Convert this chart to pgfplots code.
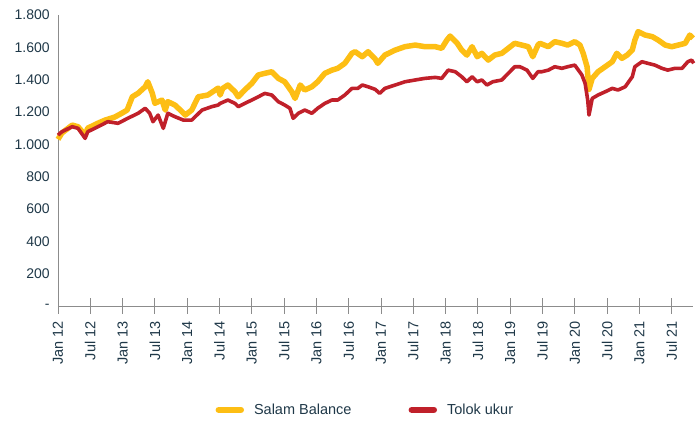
\documentclass[border=0pt]{standalone}
\usepackage{pgfplots}
\pgfplotsset{compat=1.18}
\usepackage{fontspec}
\setmainfont{Liberation Sans}
\definecolor{salam}{RGB}{253,190,20}
\definecolor{tolok}{RGB}{192,32,42}
\definecolor{txt}{RGB}{31,56,72}
\definecolor{axgray}{RGB}{140,140,140}
\begin{document}
\fontsize{14bp}{16bp}\selectfont
\begin{tikzpicture}
\useasboundingbox (-58bp,-118bp) rectangle (641bp,306bp);
\begin{axis}[
  scale only axis, width=635bp, height=291bp,
  xmin=0, xmax=9.83, ymin=0, ymax=1800,
  axis x line=bottom, axis y line=left,
  axis line style={-, draw=axgray, line width=0.9bp},
  xtick={0,0.5,...,9.5},
  xticklabels={Jan 12,Jul 12,Jan 13,Jul 13,Jan 14,Jul 14,Jan 15,Jul 15,Jan 16,Jul 16,Jan 17,Jul 17,Jan 18,Jul 18,Jan 19,Jul 19,Jan 20,Jul 20,Jan 21,Jul 21},
  x tick label style={rotate=90, anchor=east, text=txt, font=\fontsize{14.5bp}{16bp}\selectfont},
  xtick style={draw=axgray, line width=0.9bp},
  major tick length=15bp, tick align=center,
  xticklabel shift=3bp,
  ytick={0,200,...,1800},
  yticklabels={-,200,400,600,800,1.000,1.200,1.400,1.600,1.800},
  y tick label style={text=txt, font=\fontsize{14bp}{16bp}\selectfont},
  ytick style={draw=none},
  yticklabel shift=-4bp,
  /pgf/number format/assume math mode=true,
  clip=false,
  legend columns=2,
  legend style={at={(0.484,-0.357)}, anchor=center, draw=none, fill=none,
    font=\fontsize{14.5bp}{16bp}\selectfont, text=txt,
    /tikz/every odd column/.append style={column sep=8bp},
    /tikz/every even column/.append style={column sep=55bp}},
  legend image code/.code={\draw[#1, line width=6.5bp, line cap=round] (3bp,0bp) -- (25bp,0bp);},
]
\addplot[salam, line width=5.5bp, line join=round] coordinates {
(0,1031)(0.06,1070)(0.22,1119)(0.31,1109)(0.42,1057)(0.46,1100)(0.62,1131)(0.73,1150)(0.88,1169)(0.99,1193)
(1.07,1212)(1.15,1294)(1.24,1316)(1.35,1356)(1.39,1387)(1.46,1316)(1.50,1254)(1.61,1274)(1.66,1212)(1.70,1264)
(1.81,1243)(1.92,1202)(1.97,1181)(2.07,1212)(2.17,1294)(2.32,1305)(2.48,1348)(2.51,1305)(2.55,1346)(2.63,1367)
(2.74,1325)(2.79,1294)(2.89,1336)(3.00,1377)(3.10,1429)(3.20,1439)(3.31,1449)(3.41,1408)(3.51,1387)(3.62,1325)
(3.67,1284)(3.75,1367)(3.82,1336)(3.93,1356)(4.02,1387)(4.13,1439)(4.24,1459)(4.33,1470)(4.44,1501)(4.55,1563)
(4.60,1573)(4.71,1542)(4.80,1573)(4.91,1528)(4.95,1501)(5.06,1552)(5.22,1583)(5.37,1604)(5.53,1614)(5.68,1604)
(5.84,1604)(5.94,1594)(6.02,1645)(6.07,1670)(6.18,1625)(6.25,1583)(6.33,1552)(6.41,1604)(6.49,1542)(6.56,1563)
(6.66,1521)(6.76,1552)(6.87,1563)(6.97,1594)(7.07,1625)(7.18,1614)(7.28,1604)(7.35,1542)(7.43,1614)(7.46,1625)
(7.59,1604)(7.69,1635)(7.80,1625)(7.89,1614)(8.00,1635)(8.08,1614)(8.13,1563)(8.19,1480)(8.22,1340)(8.27,1408)
(8.36,1449)(8.47,1480)(8.58,1511)(8.65,1563)(8.73,1532)(8.81,1552)(8.89,1583)(8.93,1645)(8.98,1697)(9.09,1676)
(9.20,1666)(9.29,1645)(9.40,1614)(9.50,1604)(9.60,1614)(9.71,1625)(9.78,1676)(9.83,1656)
};
\addlegendentry{Salam Balance}
\addplot[tolok, line width=3.6bp, line join=round] coordinates {
(0,1057)(0.06,1078)(0.22,1109)(0.31,1099)(0.42,1037)(0.46,1078)(0.62,1109)(0.77,1140)(0.93,1130)(1.08,1161)
(1.24,1192)(1.35,1223)(1.42,1192)(1.47,1140)(1.55,1181)(1.63,1099)(1.70,1192)(1.81,1171)(1.94,1150)(2.07,1150)
(2.23,1212)(2.38,1233)(2.48,1243)(2.51,1253)(2.63,1274)(2.74,1253)(2.79,1233)(2.89,1253)(3.00,1274)(3.10,1294)
(3.20,1315)(3.31,1305)(3.41,1264)(3.51,1243)(3.59,1223)(3.64,1161)(3.72,1192)(3.82,1212)(3.93,1192)(4.02,1223)
(4.13,1253)(4.24,1274)(4.33,1274)(4.44,1305)(4.55,1346)(4.64,1346)(4.71,1367)(4.80,1356)(4.91,1340)(4.98,1315)
(5.06,1346)(5.22,1367)(5.37,1387)(5.53,1398)(5.68,1408)(5.84,1414)(5.94,1408)(6.04,1459)(6.15,1449)(6.25,1418)
(6.33,1387)(6.41,1418)(6.49,1387)(6.56,1398)(6.64,1367)(6.73,1387)(6.87,1398)(6.97,1439)(7.07,1480)(7.15,1480)
(7.26,1459)(7.35,1408)(7.43,1449)(7.49,1449)(7.59,1459)(7.69,1480)(7.80,1470)(7.89,1480)(8.00,1490)(8.11,1429)
(8.16,1377)(8.20,1274)(8.22,1181)(8.27,1284)(8.36,1305)(8.47,1325)(8.58,1346)(8.67,1336)(8.78,1356)(8.89,1418)
(8.93,1480)(9.04,1511)(9.13,1501)(9.24,1490)(9.35,1470)(9.44,1459)(9.55,1470)(9.66,1470)(9.75,1511)(9.81,1521)(9.84,1501)
};
\addlegendentry{Tolok ukur}
\end{axis}
\end{tikzpicture}
\end{document}
